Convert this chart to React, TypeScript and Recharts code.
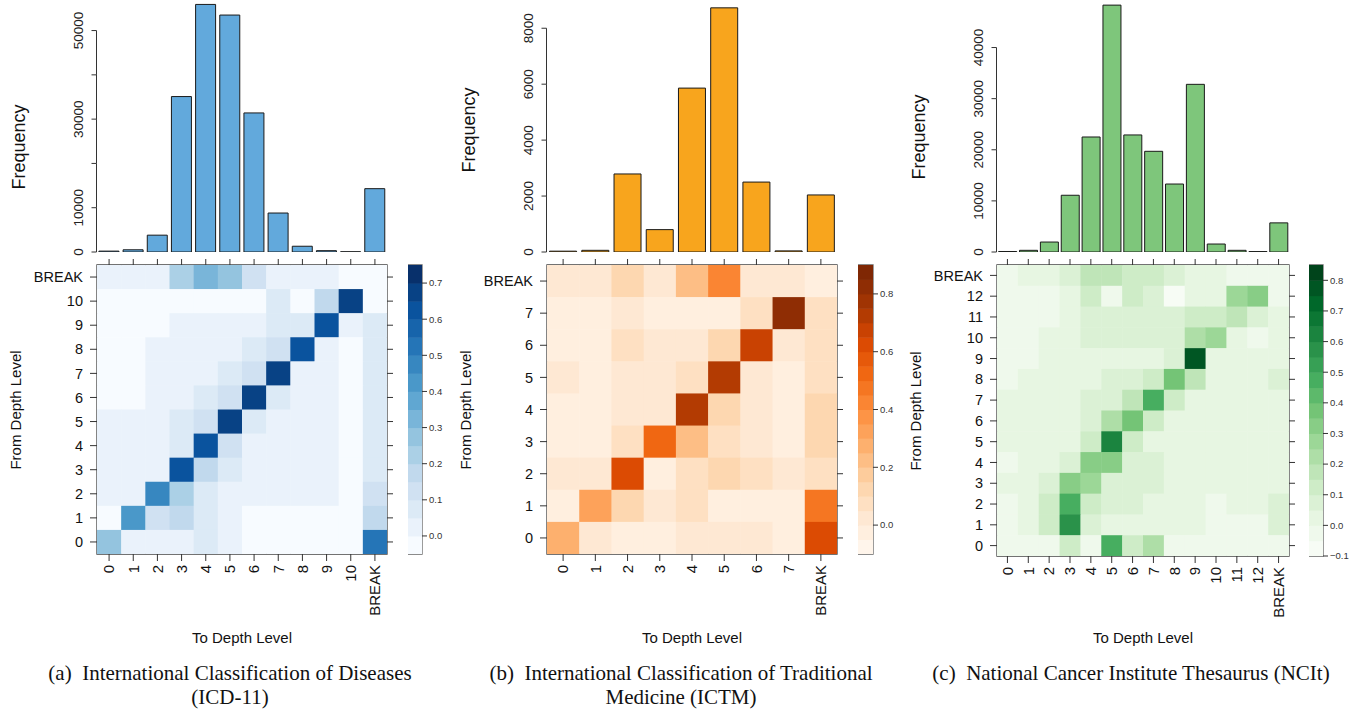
import React from 'react';
import { BarChart, Bar, XAxis, YAxis, ScatterChart, Scatter, ReferenceArea } from 'recharts';

// (a) ICD-11
const icdLevels = ['0', '1', '2', '3', '4', '5', '6', '7', '8', '9', '10', 'BREAK'];
const icdFreq = [200, 500, 3800, 35100, 55900, 53500, 31400, 8800, 1300, 300, 50, 14300];
const icdFreqTicks = [0, 10000, 20000, 30000, 40000, 50000];
const icdFreqLabels = [0, 10000, 30000, 50000];
const icdKeyTicks = [0, 0.1, 0.2, 0.3, 0.4, 0.5, 0.6, 0.7];
// rows from the top of the heatmap (BREAK) down to level 0
const icdMatrix = [
  [0.02, 0.02, 0.02, 0.22, 0.32, 0.27, 0.12, 0.02, 0.02, 0.02, -0.02, -0.02],
  [-0.02, -0.02, -0.02, -0.02, -0.02, -0.02, -0.02, 0.07, -0.02, 0.17, 0.68, -0.02],
  [-0.02, -0.02, -0.02, 0.02, 0.02, 0.02, 0.02, 0.07, 0.07, 0.62, 0.02, 0.07],
  [-0.02, -0.02, 0.02, 0.02, 0.02, 0.02, 0.07, 0.12, 0.62, 0.02, -0.02, 0.07],
  [-0.02, -0.02, 0.02, 0.02, 0.02, 0.07, 0.12, 0.68, 0.02, 0.02, -0.02, 0.07],
  [-0.02, -0.02, 0.02, 0.02, 0.07, 0.12, 0.68, 0.07, 0.02, 0.02, -0.02, 0.07],
  [0.02, 0.02, 0.02, 0.07, 0.12, 0.68, 0.07, 0.02, 0.02, 0.02, -0.02, 0.07],
  [0.02, 0.02, 0.02, 0.07, 0.62, 0.12, 0.02, 0.02, 0.02, 0.02, -0.02, 0.07],
  [0.02, 0.02, 0.02, 0.62, 0.17, 0.07, 0.02, 0.02, 0.02, 0.02, -0.02, 0.07],
  [0.02, 0.02, 0.47, 0.22, 0.07, 0.02, 0.02, 0.02, 0.02, 0.02, -0.02, 0.12],
  [-0.02, 0.42, 0.12, 0.17, 0.07, 0.02, -0.02, -0.02, -0.02, -0.02, -0.02, 0.17],
  [0.27, 0.02, 0.02, 0.02, 0.07, 0.02, -0.02, -0.02, -0.02, -0.02, -0.02, 0.52],
];

// (b) ICTM
const ictmLevels = ['0', '1', '2', '3', '4', '5', '6', '7', 'BREAK'];
const ictmFreq = [30, 60, 2790, 800, 5860, 8730, 2500, 40, 2040];
const ictmFreqTicks = [0, 2000, 4000, 6000, 8000];
const ictmFreqLabels = [0, 2000, 4000, 6000, 8000];
const ictmKeyTicks = [0, 0.2, 0.4, 0.6, 0.8];
const ictmMatrix = [
  [0.02, 0.02, 0.12, 0.02, 0.24, 0.42, 0.02, 0.02, -0.03],
  [-0.03, -0.03, 0.02, -0.03, -0.03, -0.03, 0.07, 0.82, 0.07],
  [-0.03, -0.03, 0.07, 0.02, 0.02, 0.12, 0.67, 0.02, 0.07],
  [0.02, -0.03, 0.02, 0.02, 0.07, 0.72, 0.02, -0.03, 0.07],
  [-0.03, -0.03, 0.02, 0.02, 0.72, 0.12, 0.02, -0.03, 0.12],
  [-0.03, -0.03, 0.07, 0.52, 0.22, 0.07, 0.02, -0.03, 0.12],
  [0.02, 0.02, 0.62, -0.03, 0.07, 0.12, 0.07, 0.02, 0.07],
  [-0.03, 0.32, 0.12, 0.02, 0.07, -0.03, -0.03, -0.03, 0.47],
  [0.27, 0.02, -0.03, -0.03, 0.02, 0.02, 0.02, -0.03, 0.62],
];

// (c) NCIt
const ncitLevels = ['0', '1', '2', '3', '4', '5', '6', '7', '8', '9', '10', '11', '12', 'BREAK'];
const ncitFreq = [100, 330, 1950, 11100, 22500, 48300, 22900, 19700, 13300, 32800, 1560, 330, 80, 5700];
const ncitFreqTicks = [0, 10000, 20000, 30000, 40000];
const ncitFreqLabels = [0, 10000, 20000, 30000, 40000];
const ncitKeyTicks = [-0.1, 0, 0.1, 0.2, 0.3, 0.4, 0.5, 0.6, 0.7, 0.8];
const ncitMatrix = [
  [-0.03, 0.02, 0.02, 0.07, 0.17, 0.17, 0.12, 0.12, 0.07, 0.02, 0.02, -0.03, -0.03, -0.03],
  [-0.03, -0.03, -0.03, 0.02, 0.12, -0.03, 0.12, 0.07, -0.08, 0.02, 0.02, 0.27, 0.32, -0.03],
  [-0.03, -0.03, -0.03, 0.02, 0.07, 0.07, 0.07, 0.07, 0.07, 0.12, 0.12, 0.17, 0.07, 0.02],
  [-0.03, -0.03, 0.02, 0.02, 0.07, 0.07, 0.07, 0.07, 0.07, 0.22, 0.27, 0.02, -0.03, 0.02],
  [-0.03, -0.03, 0.02, 0.02, 0.02, 0.02, 0.02, 0.02, 0.07, 0.77, 0.02, 0.02, 0.02, 0.02],
  [-0.03, 0.02, 0.02, 0.02, 0.02, 0.07, 0.07, 0.12, 0.37, 0.17, 0.02, 0.02, 0.02, 0.07],
  [0.02, 0.02, 0.02, 0.02, 0.07, 0.07, 0.17, 0.47, 0.12, 0.02, 0.02, 0.02, 0.02, 0.02],
  [0.02, 0.02, 0.02, 0.02, 0.07, 0.22, 0.37, 0.12, 0.02, 0.02, 0.02, 0.02, 0.02, 0.02],
  [0.02, 0.02, 0.02, 0.02, 0.12, 0.62, 0.12, 0.02, 0.02, 0.02, 0.02, 0.02, 0.02, 0.02],
  [-0.03, 0.02, 0.02, 0.07, 0.32, 0.32, 0.07, 0.07, 0.02, 0.02, 0.02, 0.02, 0.02, 0.02],
  [0.02, 0.02, 0.07, 0.32, 0.27, 0.07, 0.07, 0.07, 0.02, 0.02, 0.02, 0.02, 0.02, 0.02],
  [-0.03, 0.02, 0.12, 0.47, 0.12, 0.07, 0.07, 0.02, 0.02, 0.02, -0.03, 0.02, 0.02, 0.07],
  [-0.03, 0.02, 0.12, 0.57, 0.07, 0.02, 0.02, 0.02, 0.02, 0.02, -0.03, -0.03, -0.03, 0.07],
  [-0.03, -0.03, -0.03, 0.12, -0.03, 0.47, 0.12, 0.22, -0.03, -0.03, -0.03, -0.03, -0.03, -0.03],
];

const blues = ['#f7fbff', '#deebf7', '#c6dbef', '#9ecae1', '#6baed6', '#4292c6', '#2171b5', '#08519c', '#08306b'];
const oranges = ['#fff5eb', '#fee6ce', '#fdd0a2', '#fdae6b', '#fd8d3c', '#f16913', '#d94801', '#a63603', '#7f2704'];
const greens = ['#f7fcf5', '#e5f5e0', '#c7e9c0', '#a1d99b', '#74c476', '#41ab5d', '#238b45', '#006d2c', '#00441b'];

const SANS = '"Liberation Sans", Arial, Helvetica, sans-serif';
const SERIF = '"Liberation Serif", "Times New Roman", serif';
const BAND = 0.05;
const HEAT_TOP = 265;
const BAR_BASE = 252;

const rgb = (h: string) => [1, 3, 5].map((i) => parseInt(h.slice(i, i + 2), 16));
const ramp = (pal: string[], t: number) => {
  const p = t * (pal.length - 1);
  const i = Math.min(Math.floor(p), pal.length - 2);
  const f = p - i;
  const a = rgb(pal[i]);
  const b = rgb(pal[i + 1]);
  return `rgb(${a.map((v, j) => Math.round(v + (b[j] - v) * f)).join(',')})`;
};

const keyLabel = (v: number) => (v < 0 ? '\u2212' : '') + Math.abs(v).toFixed(1);
const noLabel = () => <g />;

type PanelProps = {
  plotX: number;
  plotW: number;
  heatH: number;
  keyX: number;
  keyW: number;
  levels: string[];
  freq: number[];
  freqTicks: number[];
  freqLabels: number[];
  freqMax: number;
  freqTitleY: number;
  barFill: string;
  matrix: number[][];
  palette: string[];
  keyLo: number;
  keyHi: number;
  keyTicks: number[];
  caption: string[];
  captionX: number;
};

const Panel: React.FC<PanelProps> = ({
  plotX, plotW, heatH, keyX, keyW, levels, freq, freqTicks, freqLabels, freqMax, freqTitleY,
  barFill, matrix, palette, keyLo, keyHi, keyTicks, caption, captionX,
}) => {
  const n = levels.length;
  const idx = levels.map((_, i) => i);
  const freqData = levels.map((level, i) => ({ level, count: freq[i] }));
  const cells = matrix.flatMap((row, r) => row.map((v, c) => ({ x: c, y: n - 1 - r, v })));
  const nBands = Math.round((keyHi - keyLo) / BAND);
  const bandFill = Array.from({ length: nBands }, (_, k) => ramp(palette, k / (nBands - 1)));
  const bands = bandFill.map((fill, k) => ({ x: 0, y: keyLo + BAND * (k + 0.5), fill }));
  const cellFill = (v: number) =>
    bandFill[Math.max(0, Math.min(nBands - 1, Math.floor((v - keyLo) / BAND + 1e-9)))];
  const cw = plotW / n;
  const ch = heatH / n;
  const bandH = heatH / nBands;
  const tickStep = (BAR_BASE * (freqTicks[1] - freqTicks[0])) / freqMax;

  const freqTick = (p: any) => {
    const { x, y, payload } = p;
    const ax = x - 0.5;
    return (
      <g>
        <line x1={ax - 5} x2={ax} y1={y} y2={y} stroke="#333" />
        {payload.value > 0 && <line x1={ax} x2={ax} y1={y} y2={y + tickStep} stroke="#333" />}
        {freqLabels.includes(payload.value) && (
          <text
            x={ax - 18}
            y={y}
            dy="0.35em"
            textAnchor="middle"
            transform={`rotate(-90 ${ax - 18} ${y})`}
            fontSize={13.5}
            fontFamily={SANS}
            fill="#222"
          >
            {payload.value}
          </text>
        )}
      </g>
    );
  };

  const bottomTick = (p: any) => {
    const { x, y, payload } = p;
    return (
      <text
        x={x}
        y={y}
        dy="0.35em"
        textAnchor="end"
        transform={`rotate(-90 ${x} ${y})`}
        fontSize={15}
        fontFamily={SANS}
        fill="#111"
      >
        {levels[payload.value]}
      </text>
    );
  };

  const abs = (left: number, top: number): React.CSSProperties => ({ position: 'absolute', left, top });

  return (
    <>
      <div style={abs(plotX - 90, 0)}>
        <BarChart width={90 + plotW} height={BAR_BASE + 12} data={freqData} margin={{ top: 0, right: 0, bottom: 12, left: 0 }} barCategoryGap="8%">
          <XAxis dataKey="level" hide />
          <YAxis
            type="number" domain={[0, freqMax]} ticks={freqTicks} interval={0} allowDataOverflow
            width={90} axisLine={false} tickLine={false} tickSize={0} tickMargin={0} tick={freqTick}
          />
          <Bar dataKey="count" fill={barFill} stroke="#1a1a1a" strokeWidth={1} isAnimationActive={false} />
        </BarChart>
      </div>

      <div style={abs(plotX - 90, HEAT_TOP - 10)}>
        <ScatterChart width={90 + plotW + 10} height={10 + heatH + 75} margin={{ top: 0, right: 0, bottom: 0, left: 0 }}>
          <XAxis
            dataKey="x" type="number" domain={[-0.5, n - 0.5]} ticks={idx} interval={0} allowDataOverflow
            height={75} axisLine={false} tickSize={7} tickMargin={4} tickLine={{ stroke: '#333' }} tick={bottomTick}
          />
          <XAxis
            xAxisId="top" orientation="top" dataKey="x" type="number" domain={[-0.5, n - 0.5]} ticks={idx} interval={0}
            allowDataOverflow height={10} axisLine={false} tickSize={6} tickLine={{ stroke: '#333' }} tick={noLabel}
          />
          <YAxis
            dataKey="y" type="number" domain={[-0.5, n - 0.5]} ticks={idx} interval={0} allowDataOverflow
            width={90} axisLine={false} tickSize={7} tickMargin={7} tickLine={{ stroke: '#333' }}
            tickFormatter={(i: number) => levels[i]}
            tick={{ fontSize: 14.5, fill: '#111', fontFamily: SANS }}
          />
          <YAxis
            yAxisId="right" orientation="right" dataKey="y" type="number" domain={[-0.5, n - 0.5]} ticks={idx} interval={0}
            allowDataOverflow width={10} axisLine={false} tickSize={6} tickLine={{ stroke: '#333' }} tick={noLabel}
          />
          <Scatter
            data={cells}
            isAnimationActive={false}
            shape={(p: any) => (
              <rect x={p.cx - cw / 2} y={p.cy - ch / 2} width={cw + 0.5} height={ch + 0.5} fill={cellFill(p.payload.v)} />
            )}
          />
          {/* invisible series so the mirrored top/right axes are drawn */}
          <Scatter data={cells} xAxisId="top" yAxisId="right" isAnimationActive={false} shape={noLabel} />
          <ReferenceArea x1={-0.5} x2={n - 0.5} y1={-0.5} y2={n - 0.5} fill="none" stroke="#444" strokeWidth={1.3} ifOverflow="visible" />
        </ScatterChart>
      </div>

      <div style={abs(keyX, HEAT_TOP - 8)}>
        <ScatterChart width={keyW + 40} height={heatH + 16} margin={{ top: 8, right: 0, bottom: 8, left: 0 }}>
          <XAxis dataKey="x" type="number" domain={[-0.5, 0.5]} hide allowDataOverflow />
          <YAxis
            dataKey="y" orientation="right" type="number" domain={[keyLo, keyHi]} ticks={keyTicks} interval={0}
            allowDataOverflow width={40} axisLine={false} tickSize={5} tickMargin={2} tickLine={{ stroke: '#333' }}
            tickFormatter={keyLabel} tick={{ fontSize: 9.5, fill: '#333', fontFamily: SANS }}
          />
          <Scatter
            data={bands}
            isAnimationActive={false}
            shape={(p: any) => (
              <rect x={p.cx - keyW / 2} y={p.cy - bandH / 2} width={keyW} height={bandH + 0.5} fill={p.payload.fill} />
            )}
          />
          <ReferenceArea x1={-0.5} x2={0.5} y1={keyLo} y2={keyHi} fill="none" stroke="#666" strokeWidth={1.3} ifOverflow="visible" />
        </ScatterChart>
      </div>

      <div style={{ ...abs(plotX - 78 - 100, freqTitleY - 12), width: 200, height: 24, lineHeight: '24px', textAlign: 'center', fontSize: 18, fontFamily: SANS, color: '#111', transform: 'rotate(-90deg)' }}>
        Frequency
      </div>
      <div style={{ ...abs(plotX - 81 - 100, HEAT_TOP + heatH / 2 - 10), width: 200, height: 20, lineHeight: '20px', textAlign: 'center', fontSize: 15, fontFamily: SANS, color: '#111', transform: 'rotate(-90deg)' }}>
        From Depth Level
      </div>
      <div style={{ ...abs(plotX + plotW / 2 - 100, 628), width: 200, height: 20, lineHeight: '20px', textAlign: 'center', fontSize: 15, fontFamily: SANS, color: '#111' }}>
        To Depth Level
      </div>
      <div style={{ ...abs(captionX - 260, 661), width: 520, lineHeight: '24px', textAlign: 'center', fontSize: 21, fontFamily: SERIF, color: '#111', whiteSpace: 'pre' }}>
        {caption.map((line) => (
          <div key={line}>{line}</div>
        ))}
      </div>
    </>
  );
};

export default function App() {
  return (
    <div style={{ position: 'fixed', left: 0, top: 0, width: 1362, height: 711, background: '#fff', overflow: 'hidden' }}>
      <Panel
        plotX={97} plotW={290} heatH={289} keyX={408} keyW={14}
        levels={icdLevels} freq={icdFreq} freqTicks={icdFreqTicks} freqLabels={icdFreqLabels} freqMax={56900} freqTitleY={147}
        barFill="#62a9dc" matrix={icdMatrix} palette={blues} keyLo={-0.05} keyHi={0.75} keyTicks={icdKeyTicks}
        caption={['(a)  International Classification of Diseases', '(ICD-11)']} captionX={230}
      />
      <Panel
        plotX={547} plotW={290} heatH={289} keyX={858} keyW={15}
        levels={ictmLevels} freq={ictmFreq} freqTicks={ictmFreqTicks} freqLabels={ictmFreqLabels} freqMax={9010} freqTitleY={130}
        barFill="#f8a51d" matrix={ictmMatrix} palette={oranges} keyLo={-0.1} keyHi={0.9} keyTicks={ictmKeyTicks}
        caption={['(b)  International Classification of Traditional', 'Medicine (ICTM)']} captionX={681}
      />
      <Panel
        plotX={997} plotW={292} heatH={291} keyX={1309} keyW={14}
        levels={ncitLevels} freq={ncitFreq} freqTicks={ncitFreqTicks} freqLabels={ncitFreqLabels} freqMax={49300} freqTitleY={137}
        barFill="#7ec67b" matrix={ncitMatrix} palette={greens} keyLo={-0.1} keyHi={0.85} keyTicks={ncitKeyTicks}
        caption={['(c)  National Cancer Institute Thesaurus (NCIt)']} captionX={1131}
      />
    </div>
  );
}
